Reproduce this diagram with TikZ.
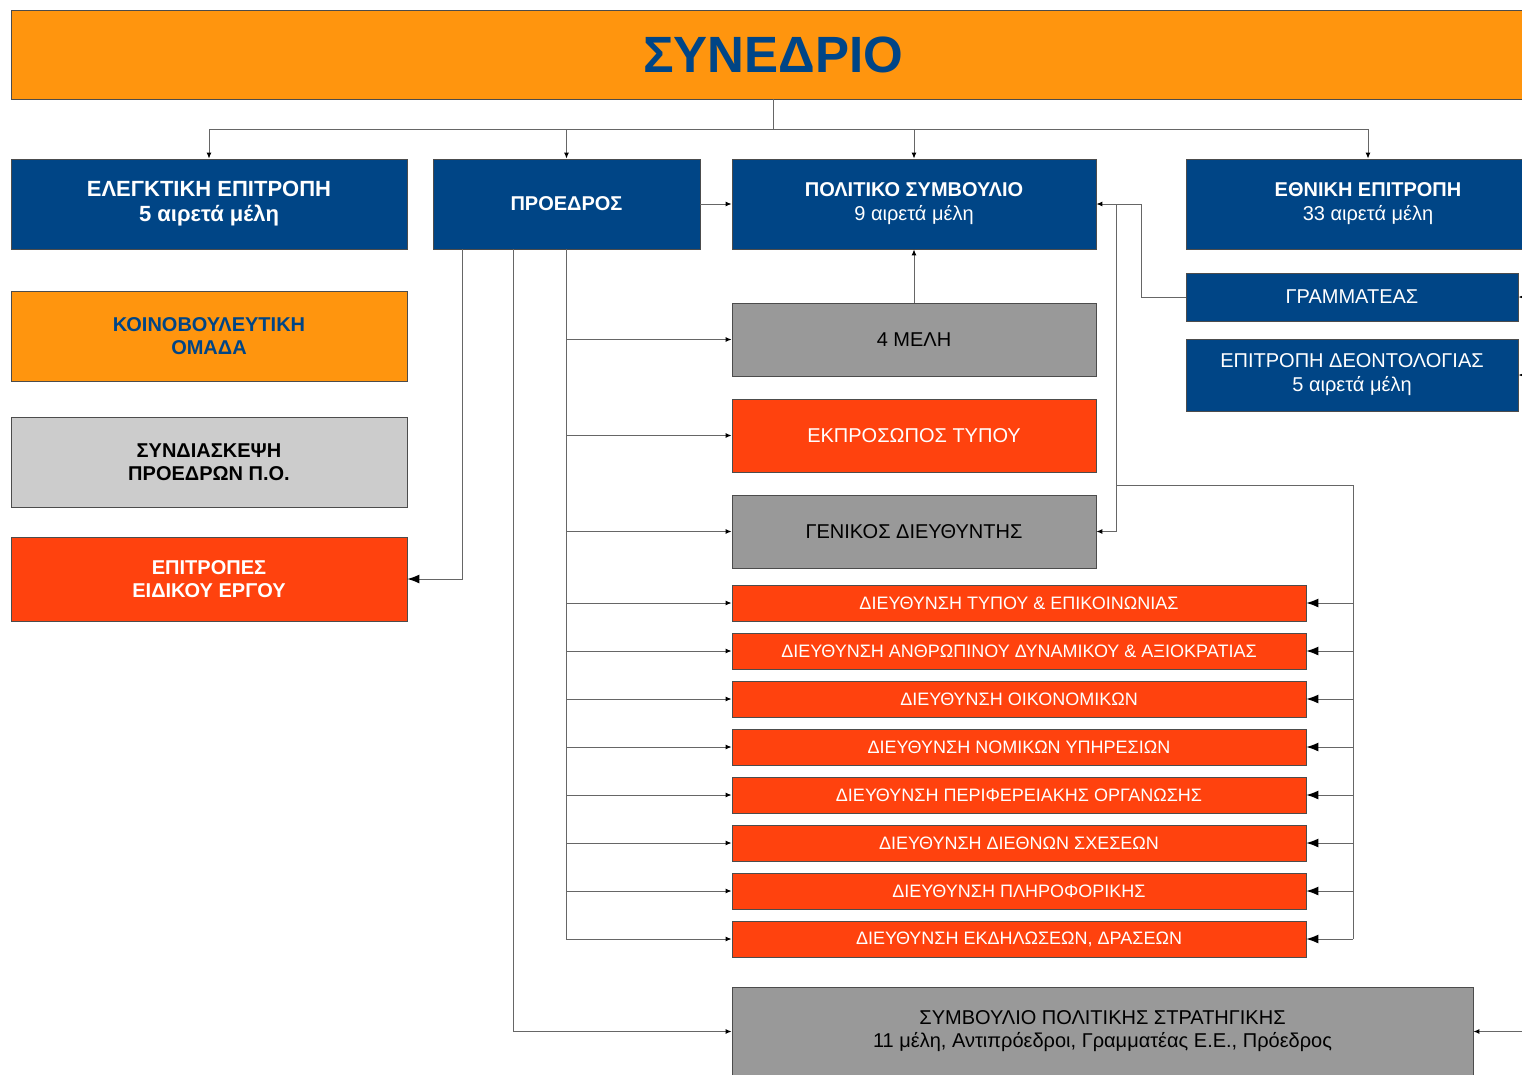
\documentclass[tikz,border=0pt]{standalone}
\usepackage{fontspec}
\setmainfont{Liberation Sans}
\usetikzlibrary{arrows.meta}
\definecolor{cblue}{HTML}{004586}
\definecolor{cred}{HTML}{FF420E}
\definecolor{corange}{HTML}{FF950E}
\definecolor{cgray}{HTML}{999999}
\definecolor{clight}{HTML}{CCCCCC}
\begin{document}
\begin{tikzpicture}[x=1pt,y=-1pt,
	box/.style={draw=black!70,line width=0.8pt,rectangle,inner sep=0pt,align=center,font=\fontsize{20}{24}\selectfont},
	bluebox/.style={box,fill=cblue,text=white},
	redbox/.style={box,fill=cred,text=white},
	graybox/.style={box,fill=cgray,text=black},
	dirbox/.style={redbox,minimum width=574pt,minimum height=36pt,font=\fontsize{18}{22}\selectfont},
	link/.style={draw=black!60,line width=1pt},
	arr/.style={link,-{Latex[length=6pt,width=5pt,color=black]}},
	bigarr/.style={link,-{Latex[length=12pt,width=9pt,color=black]}}]
	\useasboundingbox (0,0) rectangle (1522,1074);
	\clip (0,0) rectangle (1522,1074);
	% top
	\node[box,fill=corange,text=cblue,minimum width=1524pt,minimum height=89pt,font=\fontsize{51}{60}\selectfont\bfseries] (kongr) at (773,54.5) {ΣΥΝΕΔΡΙΟ};
	% first row
	\node[bluebox,minimum width=396pt,minimum height=90pt,font=\fontsize{22}{25}\selectfont\bfseries] (elegk) at (209,204) {ΕΛΕΓΚΤΙΚΗ ΕΠΙΤΡΟΠΗ\\5 αιρετά μέλη};
	\node[bluebox,minimum width=267pt,minimum height=90pt,font=\fontsize{20}{24}\selectfont\bfseries] (proedr) at (566.5,204) {ΠΡΟΕΔΡΟΣ};
	\node[bluebox,minimum width=364pt,minimum height=90pt] (polit) at (914,204) {{\bfseries ΠΟΛΙΤΙΚΟ ΣΥΜΒΟΥΛΙΟ}\\9 αιρετά μέλη};
	\node[bluebox,minimum width=364pt,minimum height=90pt] (ethn) at (1368,204) {{\bfseries ΕΘΝΙΚΗ ΕΠΙΤΡΟΠΗ}\\33 αιρετά μέλη};
	% left column
	\node[box,fill=corange,text=cblue,minimum width=396pt,minimum height=90pt,font=\fontsize{20}{23}\selectfont\bfseries] (koin) at (209,336) {ΚΟΙΝΟΒΟΥΛΕΥΤΙΚΗ\\ΟΜΑΔΑ};
	\node[box,fill=clight,text=black,minimum width=396pt,minimum height=90pt,font=\fontsize{20}{23}\selectfont\bfseries] (synd) at (209,462) {ΣΥΝΔΙΑΣΚΕΨΗ\\ΠΡΟΕΔΡΩΝ Π.Ο.};
	\node[redbox,minimum width=396pt,minimum height=84pt,font=\fontsize{20}{23}\selectfont\bfseries] (epitr) at (209,579) {ΕΠΙΤΡΟΠΕΣ\\ΕΙΔΙΚΟΥ ΕΡΓΟΥ};
	% middle column
	\node[graybox,minimum width=364pt,minimum height=73pt] (meli) at (914,339.5) {4 ΜΕΛΗ};
	\node[redbox,minimum width=364pt,minimum height=73pt] (ekpr) at (914,435.5) {ΕΚΠΡΟΣΩΠΟΣ ΤΥΠΟΥ};
	\node[graybox,minimum width=364pt,minimum height=73pt] (genik) at (914,531.5) {ΓΕΝΙΚΟΣ ΔΙΕΥΘΥΝΤΗΣ};
	\foreach \n/\t in {1/{ΔΙΕΥΘΥΝΣΗ ΤΥΠΟΥ \& ΕΠΙΚΟΙΝΩΝΙΑΣ},
		2/{ΔΙΕΥΘΥΝΣΗ ΑΝΘΡΩΠΙΝΟΥ ΔΥΝΑΜΙΚΟΥ \& ΑΞΙΟΚΡΑΤΙΑΣ},
		3/{ΔΙΕΥΘΥΝΣΗ ΟΙΚΟΝΟΜΙΚΩΝ},
		4/{ΔΙΕΥΘΥΝΣΗ ΝΟΜΙΚΩΝ ΥΠΗΡΕΣΙΩΝ},
		5/{ΔΙΕΥΘΥΝΣΗ ΠΕΡΙΦΕΡΕΙΑΚΗΣ ΟΡΓΑΝΩΣΗΣ},
		6/{ΔΙΕΥΘΥΝΣΗ ΔΙΕΘΝΩΝ ΣΧΕΣΕΩΝ},
		7/{ΔΙΕΥΘΥΝΣΗ ΠΛΗΡΟΦΟΡΙΚΗΣ},
		8/{ΔΙΕΥΘΥΝΣΗ ΕΚΔΗΛΩΣΕΩΝ, ΔΡΑΣΕΩΝ}}
		\node[dirbox] (dir\n) at (1019,{555+48*\n}) {\t};
	\node[graybox,minimum width=741pt,minimum height=89pt,font=\fontsize{20}{23}\selectfont] (strat) at (1102.5,1031.5) {ΣΥΜΒΟΥΛΙΟ ΠΟΛΙΤΙΚΗΣ ΣΤΡΑΤΗΓΙΚΗΣ\\11 μέλη, Αντιπρόεδροι, Γραμματέας Ε.Ε., Πρόεδρος};
	% right column
	\node[bluebox,minimum width=332pt,minimum height=48pt] (grammat) at (1352,297) {ΓΡΑΜΜΑΤΕΑΣ};
	\node[bluebox,minimum width=332pt,minimum height=72pt] (deont) at (1352,375) {ΕΠΙΤΡΟΠΗ ΔΕΟΝΤΟΛΟΓΙΑΣ\\5 αιρετά μέλη};
	% from the congress
	\draw[link] (kongr.south) -- ++(0,30) coordinate (topbus);
	\foreach \t in {elegk,proedr,polit,ethn}
		\draw[arr] (topbus) -| (\t.north);
	% from the president
	\draw[arr] (proedr.east) -- (polit.west);
	\draw[bigarr] ([xshift=30pt]proedr.south west) |- (epitr.east);
	\draw[arr] ([xshift=81pt]proedr.south west) |- (strat.west);
	\foreach \t in {meli,ekpr,genik,dir1,dir2,dir3,dir4,dir5,dir6,dir7,dir8}
		\draw[arr] (proedr.south) |- (\t.west);
	\draw[arr] (meli.north) -- (polit.south);
	% from the secretary
	\draw[arr] (grammat.west) -- ++(-44,0) |- (polit.east);
	\draw[arr] ([xshift=20pt]polit.east) |- (genik.east);
	\coordinate (gdbus) at (1116,485);
	\coordinate (rbus) at (1353,485);
	\draw[link] (gdbus) -- (rbus) -- (rbus |- dir8.east);
	\foreach \n in {1,...,8}
		\draw[bigarr] (rbus |- dir\n.east) -- (dir\n.east);
	% from outside the page
	\draw[arr] ([xshift=30pt]grammat.east) -- (grammat.east);
	\draw[arr] ([xshift=30pt]deont.east) -- (deont.east);
	\draw[arr] ([xshift=60pt]strat.east) -- (strat.east);
\end{tikzpicture}
\end{document}
